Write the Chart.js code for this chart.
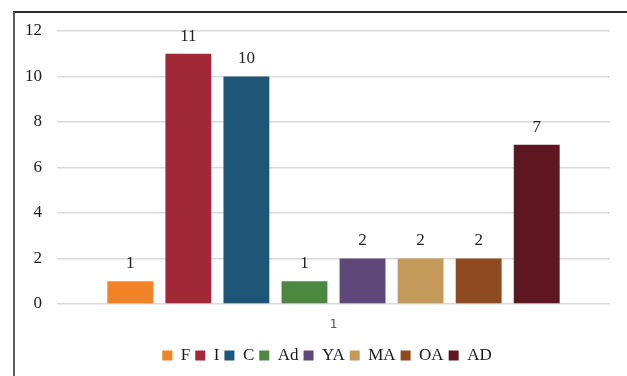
<!DOCTYPE html>
<html lang="en">

<head>
    <meta charset="UTF-8">
    <title>Counts by group</title>
    <script src="https://cdn.jsdelivr.net/npm/chart.js@4.4.0/dist/chart.umd.min.js"></script>
    <style>
        html, body { margin: 0; padding: 0; background: #fff; overflow: hidden; }
        .frame {
            position: absolute; left: 13px; top: 11px; width: 700px; height: 400px;
            border-left: 2px solid #5a5a5a; border-top: 2px solid #2b2b2b;
        }
        .wrap { position: absolute; left: 0; top: 0; width: 627px; height: 376px; }
    </style>
</head>

<body>
    <div class="frame"></div>
    <div class="wrap"><canvas id="myChart"></canvas></div>

    <script>
        const categories = ['1'];
        const groups = ['F', 'I', 'C', 'Ad', 'YA', 'MA', 'OA', 'AD'];
        const values = [1, 11, 10, 1, 2, 2, 2, 7];
        const colors = ['#F28226', '#A12937', '#1E5678', '#4D8843', '#5F4879', '#C4995A', '#8E4A20', '#5E1620'];
        const yTicks = [0, 2, 4, 6, 8, 10, 12];

        const serif = '"Liberation Serif", "Times New Roman", serif';

        // value labels above each bar
        const barLabels = {
            id: 'barLabels',
            afterDatasetsDraw(chart) {
                const ctx = chart.ctx;
                ctx.save();
                ctx.font = '17px ' + serif;
                ctx.fillStyle = '#222';
                ctx.textAlign = 'center';
                ctx.textBaseline = 'bottom';
                chart.data.datasets.forEach((ds, i) => {
                    chart.getDatasetMeta(i).data.forEach((bar, j) => {
                        ctx.fillText(ds.data[j], bar.x, bar.y - 9);
                    });
                });
                ctx.restore();
            }
        };

        // nudge the legend a little to the right, like the original
        const legendShift = {
            id: 'legendShift',
            afterLayout(chart) {
                chart.legend.left += 22;
                chart.legend.right += 22;
            }
        };

        const datasets = groups.map((g, i) => ({
            label: g,
            data: [values[i]],
            backgroundColor: colors[i],
            categoryPercentage: 0.84,
            barPercentage: 0.79
        }));

        new Chart(document.getElementById('myChart'), {
            type: 'bar',
            data: { labels: categories, datasets: datasets },
            options: {
                responsive: true,
                maintainAspectRatio: false,
                animation: false,
                layout: { padding: { top: 31, right: 17, left: 0, bottom: 2 } },
                plugins: {
                    tooltip: { enabled: false },
                    legend: {
                        position: 'bottom',
                        labels: {
                            boxWidth: 10,
                            boxHeight: 10,
                            padding: 5,
                            color: '#1a1a1a',
                            font: { family: serif, size: 17 }
                        }
                    }
                },
                scales: {
                    x: {
                        grid: { display: false },
                        border: { display: false },
                        ticks: {
                            color: '#595959',
                            padding: 5,
                            font: { family: '"DejaVu Sans Mono", monospace', size: 13 }
                        },
                        afterFit: s => { s.height = 38; }
                    },
                    y: {
                        min: 0,
                        max: 12,
                        afterBuildTicks: s => { s.ticks = yTicks.map(v => ({ value: v })); },
                        grid: { color: '#d9d9d9', lineWidth: 1.5, drawTicks: false },
                        border: { display: false },
                        ticks: {
                            color: '#1a1a1a',
                            padding: 15,
                            font: { family: serif, size: 17 }
                        },
                        afterFit: s => { s.width = 57; }
                    }
                }
            },
            plugins: [barLabels, legendShift]
        });
    </script>
</body>

</html>
